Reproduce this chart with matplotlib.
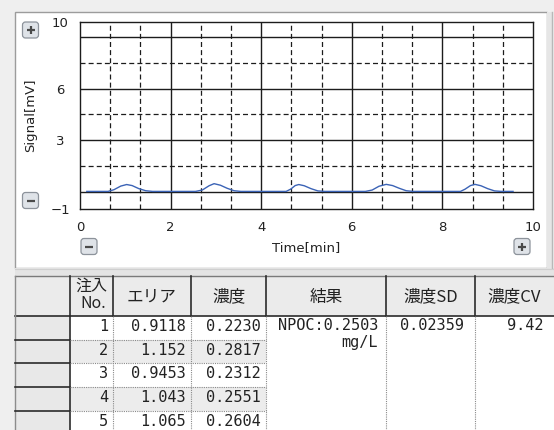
import matplotlib
matplotlib.use("Agg")
import matplotlib.pyplot as plt
from matplotlib.patches import Rectangle, FancyBboxPatch

# chromatogram trace (time in min, signal in mV)
time_min = [0.15, 0.62, 0.75, 0.9, 1.03, 1.15, 1.3, 1.45, 1.6,
            2.55, 2.7, 2.85, 2.96, 3.1, 3.25, 3.4, 3.55,
            4.55, 4.65, 4.75, 4.83, 4.95, 5.1, 5.25, 5.4,
            6.3, 6.45, 6.6, 6.76, 6.9, 7.05, 7.2, 7.35,
            8.4, 8.5, 8.62, 8.72, 8.85, 9.0, 9.15, 9.3, 9.56]
signal_mv = [0.02, 0.02, 0.12, 0.33, 0.42, 0.36, 0.18, 0.06, 0.02,
             0.02, 0.1, 0.35, 0.47, 0.38, 0.2, 0.06, 0.02,
             0.02, 0.15, 0.36, 0.42, 0.35, 0.18, 0.05, 0.02,
             0.02, 0.1, 0.32, 0.43, 0.36, 0.2, 0.06, 0.02,
             0.02, 0.15, 0.36, 0.43, 0.35, 0.18, 0.05, 0.02, 0.02]

x_ticks = [0, 2, 4, 6, 8, 10]
x_tick_labels = ['0', '2', '4', '6', '8', '10']
y_lo, y_hi = -1.02, 9.87
y_ticks = [y_lo, 3, 6, y_hi]
y_tick_labels = ['\u22121', '3', '6', '10']
x_grid_major = [2, 4, 6, 8]
x_grid_minor = [m + d for m in range(0, 10, 2) for d in (2 / 3, 4 / 3)]
y_grid_major = [0, 3, 6, 9]
y_grid_minor = [1.5, 4.5, 7.5]

# result table
headers = ['エリア', '濃度', '結果', '濃度SD', '濃度CV']
inj_no = ['1', '2', '3', '4', '5']
area = ['0.9118', '1.152', '0.9453', '1.043', '1.065']
conc = ['0.2230', '0.2817', '0.2312', '0.2551', '0.2604']
result_lines = ['NPOC:0.2503', 'mg/L']
conc_sd = '0.02359'
conc_cv = '9.42'

W, H = 554, 430
fig = plt.figure(figsize=(W / 100, H / 100), dpi=100)
fig.patch.set_facecolor('#efefef')

# overlay in pixel units for the window frame, buttons and table
ov = fig.add_axes([0, 0, 1, 1])
ov.set_xlim(0, W)
ov.set_ylim(H, 0)
ov.axis('off')

# window panel
ov.add_patch(Rectangle((15, 12), 532, 256, fc='white', ec='#9c9c9c', lw=1))
ov.add_patch(Rectangle((547, 12), 5, 256, fc='#e6e6e6', ec='none'))
ov.plot([552, 552], [12, 268], color='#b8b8b8', lw=1)
ov.add_patch(Rectangle((15, 268), W - 15, 8, fc='#e4e4e4', ec='none'))
ov.plot([15, W], [268.5, 268.5], color='#cfcfcf', lw=0.8)


def button(cx, cy, sign):
    ov.add_patch(FancyBboxPatch((cx - 7, cy - 7), 14, 14,
                                boxstyle='round,pad=1,rounding_size=3',
                                fc='#dfe3e8', ec='#8d939b', lw=0.9))
    ov.plot([cx - 4, cx + 4], [cy, cy], color='#4a4a4a', lw=1.6,
            solid_capstyle='butt')
    if sign == '+':
        ov.plot([cx, cx], [cy - 4, cy + 4], color='#4a4a4a', lw=1.6,
                solid_capstyle='butt')


button(30.5, 30, '+')
button(30.5, 200.5, '-')
button(89, 246.5, '-')
button(522, 246.5, '+')

# table geometry (pixels)
col_edges = [15, 70, 113, 191, 266, 386, 475, W]
head_top, head_bot = 276, 316
row_edges = [316, 339.5, 363, 387, 411, 435]
dark = '#2b2b2b'
cjk = ['Noto Sans CJK JP', 'DejaVu Sans']
mono = 'DejaVu Sans Mono'

ov.add_patch(Rectangle((15, head_top), W - 15, head_bot - head_top,
                       fc='#ebebeb', ec='none'))
ov.add_patch(Rectangle((70, head_bot), W - 70, H - head_bot, fc='white', ec='none'))
ov.add_patch(Rectangle((15, head_bot), 55, H - head_bot, fc='#e8e8e8', ec='none'))
for i in range(len(inj_no)):
    if i % 2 == 1:
        ov.add_patch(Rectangle((70, row_edges[i]), 196, row_edges[i + 1] - row_edges[i],
                               fc='#ececec', ec='none'))

# header borders
ov.plot([15, W], [head_top, head_top], color='#7a7a7a', lw=1)
ov.plot([15, W], [head_bot, head_bot], color=dark, lw=1.2)
for x in col_edges[1:-1]:
    ov.plot([x, x], [head_top, head_bot], color=dark, lw=1.2)
ov.plot([15, 15], [head_top, H], color='#8c8c8c', lw=1)
ov.plot([70, 70], [head_bot, H], color=dark, lw=1.2)
for y in row_edges[1:-1]:
    ov.plot([15, 70], [y, y], color=dark, lw=1.2)
    ov.plot([70, 266], [y, y], color='#8a8a8a', lw=0.8, ls=(0, (1, 1)))
for x in col_edges[2:-1]:
    ov.plot([x, x], [head_bot, H], color='#8a8a8a', lw=0.8, ls=(0, (1, 1)))

# header text
ov.text(91.5, 286.5, '注入', ha='center', va='center', fontsize=11.5,
        family=cjk, color='#222')
ov.text(93, 303, 'No.', ha='center', va='center', fontsize=11.5,
        family=cjk, color='#222')
for j, h in enumerate(headers):
    cx = (col_edges[j + 2] + col_edges[j + 3]) / 2
    ov.text(cx, 297, h, ha='center', va='center', fontsize=12,
            family=cjk, color='#222')

# body text
for i in range(len(inj_no)):
    cy = (row_edges[i] + row_edges[i + 1]) / 2 - 1
    for j, val in enumerate([inj_no[i], area[i], conc[i]]):
        ov.text(col_edges[j + 2] - 5, cy, val, ha='right', va='center',
                fontsize=11, family=mono, color='#222')
ov.text(378, 326, result_lines[0], ha='right', va='center', fontsize=11,
        family=mono, color='#222')
ov.text(378, 342, result_lines[1], ha='right', va='center', fontsize=11,
        family=mono, color='#222')
ov.text(464, 326, conc_sd, ha='right', va='center', fontsize=11,
        family=mono, color='#222')
ov.text(543, 326, conc_cv, ha='right', va='center', fontsize=11,
        family=mono, color='#222')

# chromatogram axes
ax = fig.add_axes([80 / W, 1 - 209.3 / H, 453 / W, 187.3 / H])
ax.set_xlim(0, 10)
ax.set_ylim(y_lo, y_hi)
for x in x_grid_major:
    ax.axvline(x, color='#1c1c1c', lw=1.0)
for y in y_grid_major:
    ax.axhline(y, color='#1c1c1c', lw=1.0)
for x in x_grid_minor:
    ax.axvline(x, color='#1c1c1c', lw=0.9, ls=(0, (4, 2.5)))
for y in y_grid_minor:
    ax.axhline(y, color='#1c1c1c', lw=0.9, ls=(0, (4, 2.5)))
ax.plot(time_min, signal_mv, color='#3b63b6', lw=1.0)

for s in ax.spines.values():
    s.set_color('#1c1c1c')
    s.set_linewidth(1.0)
ax.set_xticks(x_ticks, x_tick_labels)
ax.set_yticks(y_ticks, y_tick_labels)
ax.tick_params(length=0, labelsize=9.5, labelcolor='#222')
ax.tick_params(axis='y', pad=14.4)
ax.tick_params(axis='x', pad=13)
for lbl in ax.get_yticklabels():
    lbl.set_ha('center')
for lbl in ax.get_xticklabels():
    lbl.set_va('center')
ax.set_xlabel('Time[min]', fontsize=9.5, color='#222')
ax.xaxis.set_label_coords(0.5, -0.205)
ax.xaxis.label.set_va('center')
ax.set_ylabel('Signal[mV]', fontsize=9.5, color='#222')
ax.yaxis.set_label_coords(-0.11, 0.5)
ax.yaxis.label.set_va('center')

fig.savefig('out.png', dpi=100)
